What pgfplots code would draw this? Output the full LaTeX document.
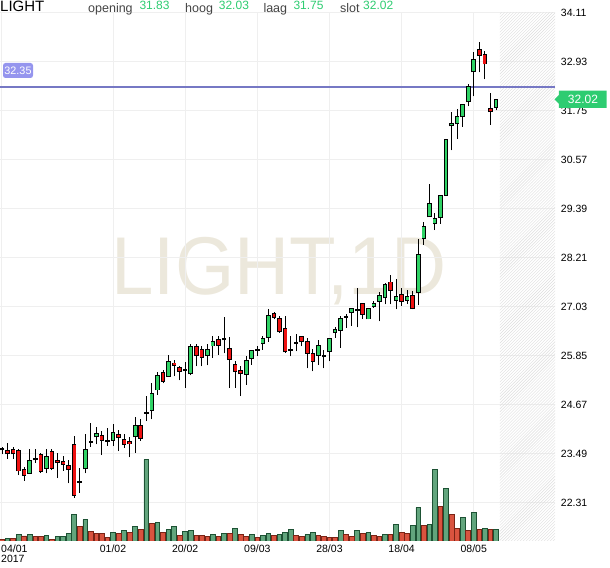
\documentclass[border=0pt]{standalone}
\usepackage{pgfplots}
\pgfplotsset{compat=1.18}
\usepackage{pgfplotstable}
\usepackage{fontspec}
\setmainfont{Liberation Sans}
\usetikzlibrary{patterns}
\definecolor{cgreen}{HTML}{2FD265}
\definecolor{cred}{HTML}{EE1111}
\definecolor{vgfill}{HTML}{62A57D}
\definecolor{vgdraw}{HTML}{1D5234}
\definecolor{vrfill}{HTML}{D9533F}
\definecolor{vrdraw}{HTML}{7A2416}
\definecolor{gridc}{HTML}{EFEFEF}
\definecolor{levelblue}{RGB}{118,120,196}
\definecolor{lblblue}{HTML}{9595EE}
\definecolor{hdrgreen}{HTML}{2ECC71}
\definecolor{hatchc}{HTML}{DDDDDD}
\definecolor{wmark}{HTML}{ECE8DC}
\definecolor{hdrgray}{HTML}{444444}

\pgfplotstableread{
i O H L C
0 23.59 23.64 23.47 23.59
1 23.56 23.75 23.36 23.48
2 23.58 23.64 23.37 23.48
3 23.56 23.59 22.97 23.07
4 23.10 23.17 22.83 22.96
5 23.02 23.61 23.02 23.32
6 23.35 23.61 23.27 23.35
7 23.47 23.51 23.02 23.05
8 23.13 23.61 23.01 23.41
9 23.53 23.59 23.09 23.13
10 23.32 23.51 22.90 23.27
11 23.29 23.43 23.07 23.23
12 23.21 23.33 22.77 23.10
13 23.71 23.92 22.42 22.48
14 22.81 23.15 22.55 22.81
15 23.12 23.95 23.01 23.59
16 23.77 24.23 23.65 23.77
17 23.89 24.13 23.71 23.97
18 23.92 24.03 23.45 23.81
19 23.79 24.10 23.68 23.79
20 23.81 24.19 23.67 23.99
21 23.95 24.05 23.55 23.87
22 23.83 23.95 23.63 23.71
23 23.78 23.89 23.40 23.72
24 23.89 24.36 23.51 24.17
25 24.17 24.31 23.80 23.86
26 24.47 24.87 24.27 24.47
27 24.53 25.20 24.31 24.93
28 25.02 25.45 24.91 25.37
29 25.43 25.51 25.18 25.23
30 25.35 25.87 25.35 25.70
31 25.67 25.75 25.35 25.62
32 25.55 25.60 25.25 25.47
33 25.51 25.69 25.07 25.51
34 25.41 26.12 25.37 26.06
35 26.06 26.12 25.59 25.86
36 26.00 26.08 25.59 25.80
37 25.86 26.12 25.61 26.00
38 26.08 26.32 25.80 26.18
39 26.24 26.32 25.87 26.10
40 26.24 26.78 25.90 26.24
41 26.02 26.30 25.07 25.75
42 25.63 25.71 25.07 25.46
43 25.49 25.60 24.87 25.41
44 25.39 25.83 25.15 25.73
45 25.77 25.99 25.63 25.98
46 25.98 26.08 25.85 25.98
47 26.13 26.32 25.99 26.25
48 26.28 26.98 26.18 26.81
49 26.86 26.90 26.72 26.76
50 26.74 26.80 26.40 26.42
51 26.50 26.81 25.92 25.94
52 25.99 26.32 25.83 25.99
53 26.15 26.36 25.95 26.15
54 26.30 26.33 26.07 26.18
55 26.18 26.28 25.54 25.90
56 25.90 26.01 25.47 25.71
57 25.86 26.22 25.63 26.09
58 25.83 25.98 25.54 25.83
59 25.94 26.28 25.71 26.25
60 26.40 26.53 26.28 26.48
61 26.46 26.81 26.04 26.73
62 26.78 26.86 26.52 26.78
63 26.88 27.00 26.57 26.98
64 26.94 27.48 26.53 26.94
65 27.10 27.12 26.73 26.84
66 26.73 27.00 26.72 26.98
67 27.02 27.16 27.00 27.10
68 27.16 27.38 26.67 27.30
69 27.24 27.60 27.08 27.56
70 27.62 27.78 27.08 27.42
71 27.18 27.70 26.96 27.27
72 27.32 27.48 27.05 27.16
73 27.18 27.42 27.10 27.27
74 27.30 27.40 26.96 26.98
75 27.37 28.66 27.06 28.28
76 28.66 29.06 28.52 28.96
77 29.19 29.99 29.19 29.51
78 29.02 29.29 28.87 29.14
79 29.17 29.71 29.02 29.71
80 29.71 31.05 29.71 31.04
81 31.38 31.72 30.79 31.43
82 31.43 31.79 31.07 31.60
83 31.60 31.91 31.36 31.89
84 31.96 32.38 31.85 32.32
85 32.68 33.15 32.09 32.98
86 33.21 33.40 32.67 33.07
87 33.10 33.18 32.50 32.87
88 31.79 32.18 31.41 31.72
89 31.83 32.03 31.75 32.02
}\candles

\pgfplotstableread{
i V
1 2.3
3 6.3
5 6.3
8 5.3
10 4.3
11 4.3
12 7.3
13 26.7
15 21.3
20 8.3
22 10.7
24 14.7
26 81.3
28 18.7
30 11.3
31 14.3
33 9.3
34 10.7
38 6.3
40 7.7
42 12.3
45 6.3
47 5.3
48 7.3
50 6.3
51 8.3
52 11.3
55 6.3
56 8.3
61 10.3
64 10.3
66 8.3
69 6.3
71 16.3
74 15.3
75 33.3
77 16.3
78 71.3
80 52.3
83 23.3
85 28.3
87 12.3
89 11.3
}\volg

\pgfplotstableread{
i V
0 1.7
2 2.3
4 5.0
6 4.3
7 4.3
9 1.7
14 14.3
16 9.7
17 7.3
18 7.3
19 3.3
21 7.7
23 8.3
25 11.3
27 17.7
29 8.3
32 5.3
35 5.3
36 5.3
37 4.3
39 4.3
41 7.7
43 6.3
44 4.3
46 3.3
49 5.3
53 5.3
54 4.3
57 5.3
58 4.3
59 3.3
60 3.3
62 6.3
63 4.3
65 7.3
67 5.3
68 4.3
70 6.3
72 8.3
73 7.3
76 15.3
79 34.3
81 26.3
82 12.3
84 10.3
86 11.3
88 11.3
}\volr

\begin{document}
\begin{tikzpicture}[x=1bp,y=1bp]
\useasboundingbox (0,-27) rectangle (610,541);
% watermark
\node[anchor=base, inner sep=0pt, text=wmark, font=\fontsize{82bp}{82bp}\selectfont] at (278.9,246) {\scalebox{0.93}[1]{LIGHT,1D}};

% price axis: grid, labels, hatch
\begin{axis}[
  at={(0,0)}, anchor=south west, scale only axis,
  width=555bp, height=528.5bp,
  xmin=-0.36, xmax=99.64, ymin=21.384, ymax=34.11,
  axis line style={draw=none},
  major tick length=0pt,
  grid=major, major grid style={draw=gridc, line width=1bp},
  xtick={0,20,33,46,59,72,85},
  xticklabels={,01/02,20/02,09/03,28/03,18/04,08/05},
  ytick={22.31,23.49,24.67,25.85,27.03,28.21,29.39,30.57,31.75,32.93,34.11},
  yticklabels={22.31,23.49,24.67,25.85,27.03,28.21,29.39,30.57,31.75,32.93,34.11},
  yticklabel pos=right,
  xticklabel style={font=\fontsize{10.5bp}{12bp}\selectfont, anchor=base, inner sep=0pt, yshift=-11.8bp},
  yticklabel style={font=\fontsize{10.5bp}{12bp}\selectfont, anchor=west, inner sep=0pt, xshift=5.7bp},
]
\addplot[draw=none, pattern=north east lines, pattern color=hatchc, forget plot] coordinates {(89.7,21.384) (99.64,21.384) (99.64,34.11) (89.7,34.11)} \closedcycle;
\end{axis}

% volume axis
\begin{axis}[
  at={(0,0)}, anchor=south west, scale only axis,
  width=555bp, height=528.5bp,
  xmin=-0.36, xmax=99.64, ymin=0, ymax=528.5,
  hide axis,
]
\addplot[ybar, bar shift=0pt, bar width=4.7bp, fill=vgfill, draw=vgdraw, line width=0.8bp] table[x=i,y=V] \volg;
\addplot[ybar, bar shift=0pt, bar width=4.7bp, fill=vrfill, draw=vrdraw, line width=0.8bp] table[x=i,y=V] \volr;
\end{axis}

% candles axis
\begin{axis}[
  at={(0,0)}, anchor=south west, scale only axis,
  width=555bp, height=528.5bp,
  xmin=-0.36, xmax=99.64, ymin=21.384, ymax=34.11,
  hide axis,
]
\addplot[levelblue, solid, line width=2bp, mark=none] coordinates {(-0.36,32.316) (99.64,32.316)};
% wicks
\addplot[draw=none, mark=none, error bars/.cd, y dir=plus, y explicit, error mark=none,
  error bar style={draw=black, solid, line width=0.9bp}]
  table[x=i, y=L, y error expr=\thisrow{H}-\thisrow{L}] \candles;
% body outlines
\addplot[draw=none, mark=none, error bars/.cd, y dir=plus, y explicit, error mark=none,
  error bar style={draw=black, solid, line width=4.6bp}]
  table[x=i, y expr={(\thisrow{O}+\thisrow{C})/2-max(abs(\thisrow{C}-\thisrow{O})+0.024,0.048)/2},
        y error expr={max(abs(\thisrow{C}-\thisrow{O})+0.024,0.048)}] \candles;
% green fills
\addplot[draw=none, mark=none, error bars/.cd, y dir=plus, y explicit, error mark=none,
  error bar style={draw=cgreen, solid, line width=2.9bp}]
  table[x=i, y expr={min(\thisrow{O},\thisrow{C})+0.011},
        y error expr={max(\thisrow{C}-\thisrow{O}-0.022,0)}] \candles;
% red fills
\addplot[draw=none, mark=none, error bars/.cd, y dir=plus, y explicit, error mark=none,
  error bar style={draw=cred, solid, line width=2.9bp}]
  table[x=i, y expr={min(\thisrow{O},\thisrow{C})+0.011},
        y error expr={max(\thisrow{O}-\thisrow{C}-0.022,0)}] \candles;
\end{axis}

% first date label
\node[anchor=base west, inner sep=0pt, font=\fontsize{10.5bp}{12bp}\selectfont] at (1,-11.8) {04/01};
\node[anchor=base west, inner sep=0pt, font=\fontsize{10.5bp}{12bp}\selectfont] at (1,-21.7) {2017};

% header
\node[anchor=base west, inner sep=0pt, font=\fontsize{15bp}{16bp}\selectfont] at (0,529) {LIGHT};
\node[anchor=base west, inner sep=0pt, text=hdrgray, font=\fontsize{12.5bp}{14bp}\selectfont] at (88,528.5) {opening};
\node[anchor=base west, inner sep=0pt, text=hdrgreen, font=\fontsize{12bp}{14bp}\selectfont] at (139.3,531) {31.83};
\node[anchor=base west, inner sep=0pt, text=hdrgray, font=\fontsize{12.5bp}{14bp}\selectfont] at (185,528.5) {hoog};
\node[anchor=base west, inner sep=0pt, text=hdrgreen, font=\fontsize{12bp}{14bp}\selectfont] at (218.7,531) {32.03};
\node[anchor=base west, inner sep=0pt, text=hdrgray, font=\fontsize{12.5bp}{14bp}\selectfont] at (263.3,528.5) {laag};
\node[anchor=base west, inner sep=0pt, text=hdrgreen, font=\fontsize{12bp}{14bp}\selectfont] at (293.3,531) {31.75};
\node[anchor=base west, inner sep=0pt, text=hdrgray, font=\fontsize{12.5bp}{14bp}\selectfont] at (340,528.5) {slot};
\node[anchor=base west, inner sep=0pt, text=hdrgreen, font=\fontsize{12bp}{14bp}\selectfont] at (363,531) {32.02};

% left price label
\fill[lblblue, rounded corners=2.5bp] (3,463) rectangle (33,478);
\node[inner sep=0pt, text=white, font=\fontsize{10.8bp}{12bp}\selectfont] at (18,470.5) {32.35};

% right price label
\fill[hdrgreen] (554.5,441.7) -- (558.8,446) -- (558.8,450.3) -- (606.7,450.3) -- (606.7,433) -- (558.8,433) -- (558.8,437.4) -- cycle;
\node[inner sep=0pt, text=white, font=\fontsize{12bp}{14bp}\selectfont] at (583,441.7) {32.02};
\end{tikzpicture}
\end{document}
